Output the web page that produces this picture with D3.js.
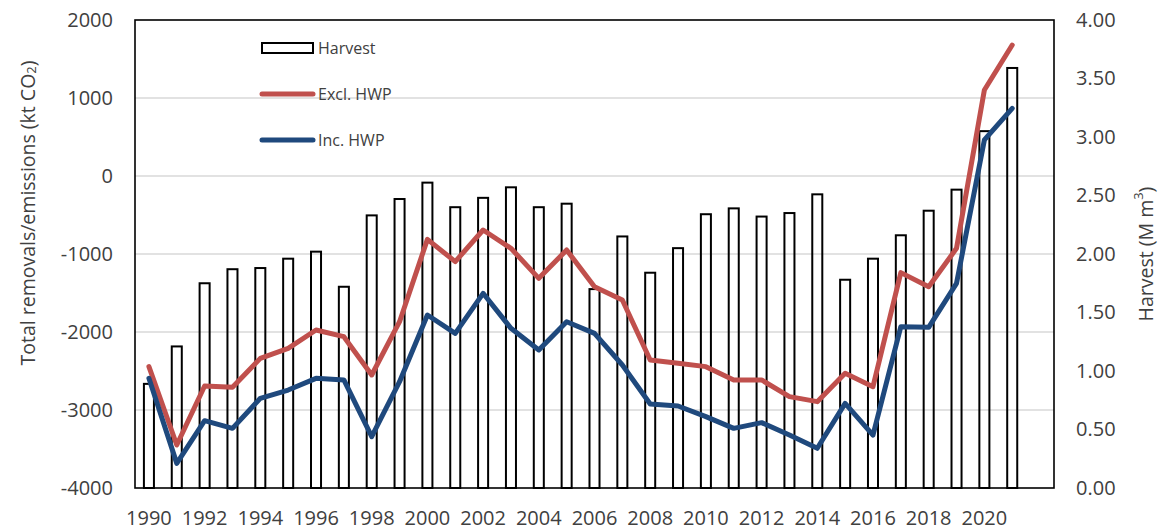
<!DOCTYPE html>
<html><head><meta charset="utf-8">
<script src="https://cdn.jsdelivr.net/npm/d3@7/dist/d3.min.js"></script>
<style>
body{margin:0;background:#fff}
text{font-family:"Open Sans",sans-serif;fill:#404040}
</style>
</head><body>
<svg id="c" width="1158" height="531"></svg>
<script>
// ---- data ----
const years = ["1990","1991","1992","1993","1994","1995","1996","1997","1998","1999",
  "2000","2001","2002","2003","2004","2005","2006","2007","2008","2009",
  "2010","2011","2012","2013","2014","2015","2016","2017","2018","2019","2020","2021"];
const xSlots = years.concat(["2022"]); // empty trailing slot as in the original chart
const harvest = [0.89,1.21,1.75,1.87,1.88,1.96,2.02,1.72,2.33,2.47,
  2.61,2.40,2.48,2.57,2.40,2.43,1.70,2.15,1.84,2.05,
  2.34,2.39,2.32,2.35,2.51,1.78,1.96,2.16,2.37,2.55,3.05,3.59];
const exclHWP = [-2444,-3449,-2692,-2709,-2338,-2209,-1974,-2060,-2551,-1868,
  -812,-1098,-692,-927,-1312,-949,-1419,-1590,-2359,-2402,
  -2444,-2615,-2615,-2829,-2893,-2530,-2701,-1239,-1419,-927,1103,1679];
const incHWP = [-2594,-3684,-3137,-3235,-2850,-2744,-2594,-2615,-3342,-2637,
  -1782,-2017,-1504,-1953,-2231,-1868,-2017,-2423,-2923,-2949,
  -3085,-3235,-3162,-3321,-3491,-2915,-3321,-1932,-1940,-1376,462,868];
const leftTicks = [-4000,-3000,-2000,-1000,0,1000,2000];
const rightTicks = [0,0.5,1,1.5,2,2.5,3,3.5,4];
const xTickLabels = ["1990","1992","1994","1996","1998","2000","2002","2004","2006","2008",
  "2010","2012","2014","2016","2018","2020"];
const seriesNames = ["Harvest","Excl. HWP","Inc. HWP"];
const colors = {excl:"#C0504D", inc:"#1F497D"};

// ---- layout ----
const L = 135, R = 1054, T = 20, B = 488;
const svg = d3.select("#c");

const x = d3.scaleBand().domain(xSlots).range([L, R]).paddingInner(0).paddingOuter(0);
const yL = d3.scaleLinear().domain([-4000, 2000]).range([B, T]);
const yR = d3.scaleLinear().domain([0, 4]).range([B, T]);

// gridlines
svg.append("g").selectAll("line").data(leftTicks.filter(d => d > -4000 && d < 2000))
  .join("line")
  .attr("x1", L).attr("x2", R)
  .attr("y1", d => yL(d)).attr("y2", d => yL(d))
  .attr("stroke", "#D9D9D9").attr("stroke-width", 1.5);

// bars
const bw = x.bandwidth() * 0.36;
svg.append("g").selectAll("rect").data(harvest)
  .join("rect")
  .attr("x", (d, i) => x(years[i]) + x.bandwidth() / 2 - bw / 2)
  .attr("y", d => yR(d))
  .attr("width", bw)
  .attr("height", d => yR(0) - yR(d))
  .attr("fill", "none").attr("stroke", "#000").attr("stroke-width", 2);

// lines
const line = d3.line()
  .x((d, i) => x(years[i]) + x.bandwidth() / 2)
  .y(d => yL(d));
svg.append("path").datum(exclHWP).attr("d", line)
  .attr("fill", "none").attr("stroke", colors.excl).attr("stroke-width", 5)
  .attr("stroke-linejoin", "round").attr("stroke-linecap", "round");
svg.append("path").datum(incHWP).attr("d", line)
  .attr("fill", "none").attr("stroke", colors.inc).attr("stroke-width", 5)
  .attr("stroke-linejoin", "round").attr("stroke-linecap", "round");

// plot border
svg.append("rect").attr("x", L).attr("y", T).attr("width", R - L).attr("height", B - T)
  .attr("fill", "none").attr("stroke", "#000").attr("stroke-width", 1.6);

// axes
const fs = "20px";
const axL = svg.append("g").attr("transform", `translate(${L},0)`)
  .call(d3.axisLeft(yL).tickValues(leftTicks).tickSize(0).tickPadding(22).tickFormat(d => String(d)));
axL.select(".domain").remove();
axL.selectAll("text").style("font-size", fs).style("font-family", '"Open Sans",sans-serif').attr("fill", "#404040");

const axR = svg.append("g").attr("transform", `translate(${R},0)`)
  .call(d3.axisRight(yR).tickValues(rightTicks).tickSize(0).tickPadding(22).tickFormat(d3.format(".2f")));
axR.select(".domain").remove();
axR.selectAll("text").style("font-size", fs).style("font-family", '"Open Sans",sans-serif').attr("fill", "#404040");

const axB = svg.append("g").attr("transform", `translate(0,${B})`)
  .call(d3.axisBottom(x).tickValues(xTickLabels).tickSize(0).tickPadding(23));
axB.select(".domain").remove();
axB.selectAll("text").style("font-size", fs).style("font-family", '"Open Sans",sans-serif').attr("fill", "#404040");

// axis titles
const lt = svg.append("text")
  .attr("transform", `translate(27,${(T + B) / 2 - 41}) rotate(-90)`)
  .attr("text-anchor", "middle").attr("dominant-baseline", "central")
  .style("font-size", "19.5px");
lt.append("tspan").text("Total removals/emissions (kt CO");
lt.append("tspan").text("2").style("font-size", "13px").attr("dy", 4);
lt.append("tspan").text(")").attr("dy", -4);

const rt = svg.append("text")
  .attr("transform", `translate(1145,254) rotate(-90)`)
  .attr("text-anchor", "middle").attr("dominant-baseline", "central")
  .style("font-size", "19.5px");
rt.append("tspan").text("Harvest (M m");
rt.append("tspan").text("3").style("font-size", "13px").attr("dy", -7);
rt.append("tspan").text(")").attr("dy", 7);

// legend
const lg = svg.append("g");
lg.append("rect").attr("x", 262).attr("y", 43).attr("width", 51).attr("height", 10)
  .attr("fill", "#fff").attr("stroke", "#000").attr("stroke-width", 2);
lg.append("line").attr("x1", 262).attr("x2", 313).attr("y1", 94).attr("y2", 94)
  .attr("stroke", colors.excl).attr("stroke-width", 5).attr("stroke-linecap", "round");
lg.append("line").attr("x1", 262).attr("x2", 313).attr("y1", 140).attr("y2", 140)
  .attr("stroke", colors.inc).attr("stroke-width", 5).attr("stroke-linecap", "round");
[48, 94, 140].forEach((yy, i) => {
  lg.append("text").attr("x", 318).attr("y", yy).attr("dominant-baseline", "central")
    .style("font-size", "16px").text(seriesNames[i]);
});
</script>
</body></html>
